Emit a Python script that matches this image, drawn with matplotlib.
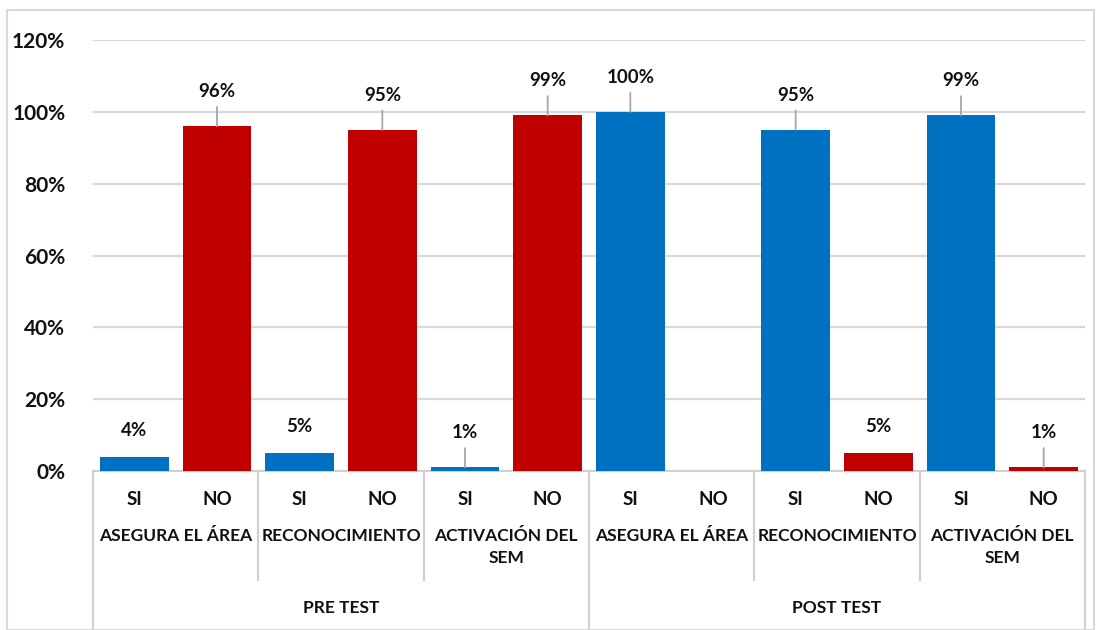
import numpy as np
import matplotlib.pyplot as plt
from matplotlib.patches import Rectangle

# datos
phases = ["PRE TEST", "POST TEST"]
items = ["ASEGURA EL ÁREA", "RECONOCIMIENTO", "ACTIVACIÓN DEL\nSEM"]
answers = ["SI", "NO"]
pre_si = [0.04, 0.05, 0.01]
pre_no = [0.96, 0.95, 0.99]
post_si = [1.00, 0.95, 0.99]
post_no = [0.00, 0.05, 0.01]
yticks = [0, 0.2, 0.4, 0.6, 0.8, 1.0, 1.2]

BLUE = "#0070C0"
RED = "#C00000"
GRID = "#d9d9d9"
LINE = "#d0d0d0"
TXT = "#111111"

plt.rcParams['font.family'] = ['Lato', 'DejaVu Sans']
plt.rcParams['font.weight'] = 'bold'

# orden de las barras: fase -> item -> SI/NO
values, colors, labels = [], [], []
for si, no in [(pre_si, pre_no), (post_si, post_no)]:
    for k in range(len(items)):
        values += [si[k], no[k]]
        colors += [BLUE, RED]
        labels += answers
x = np.arange(len(values))

fig = plt.figure(figsize=(11.01, 6.30), dpi=100)
ax = fig.add_axes([93 / 1101, 1 - 471 / 630, (1085 - 93) / 1101, (471 - 40) / 630])

ax.bar(x, values, width=0.83, color=colors, zorder=3)
ax.set_xlim(-0.5, len(values) - 0.5)
ax.set_ylim(0, 1.2)
ax.set_yticks(yticks)
ax.set_yticklabels([f"{int(round(t * 100))}%" for t in yticks], fontsize=15,
                   fontweight='bold', color=TXT)
ax.tick_params(axis='y', length=0, pad=20)
ax.set_xticks([])
ax.grid(axis='y', color=GRID, linewidth=1.6, zorder=0)
for s in ['top', 'right', 'left']:
    ax.spines[s].set_visible(False)
ax.spines['bottom'].set_color(LINE)
ax.spines['bottom'].set_linewidth(1.5)

# etiquetas de datos con línea guía
for xi, v in zip(x, values):
    if v <= 0:
        continue
    leader = v > 0.5 or v < 0.03
    ax.annotate(f"{int(round(v * 100))}%", xy=(xi, v), xytext=(0, 25 if leader else 19),
                textcoords='offset points', ha='center', va='center',
                fontsize=13.5, fontweight='bold', color=TXT, zorder=5,
                arrowprops=dict(arrowstyle='-', color='#a6a6a6', lw=1.3,
                                shrinkA=3, shrinkB=0, relpos=(0.5, 0)) if leader else None)

# eje de categorías multinivel
trans = ax.get_xaxis_transform()
for xi, lab in zip(x, labels):
    ax.text(xi, -0.067, lab, transform=trans, ha='center', va='center',
            fontsize=13.5, fontweight='bold', color=TXT)
n_items = len(items)
for p, phase in enumerate(phases):
    for k, item in enumerate(items):
        c = (p * n_items + k) * 2 + 0.5
        ax.text(c, -0.133, item, transform=trans, ha='center', va='top',
                fontsize=12.5, fontweight='bold', linespacing=1.45, color=TXT)
    c = p * n_items * 2 + n_items - 0.5
    ax.text(c, -0.318, phase, transform=trans, ha='center', va='center',
            fontsize=12.5, fontweight='bold', color=TXT)

for b in range(len(values) // 2 + 1):
    xb = b * 2 - 0.5
    long_line = (b % n_items == 0)
    ax.plot([xb, xb], [0, -0.37 if long_line else -0.253], transform=trans,
            color=LINE, lw=1.5, clip_on=False)

# borde del gráfico
fig.add_artist(Rectangle((7 / 1101, 0), 1087 / 1101, 1 - 10 / 630,
                         transform=fig.transFigure, fill=False,
                         edgecolor='#d9d9d9', lw=1.5))

fig.savefig("out.png", dpi=100)
